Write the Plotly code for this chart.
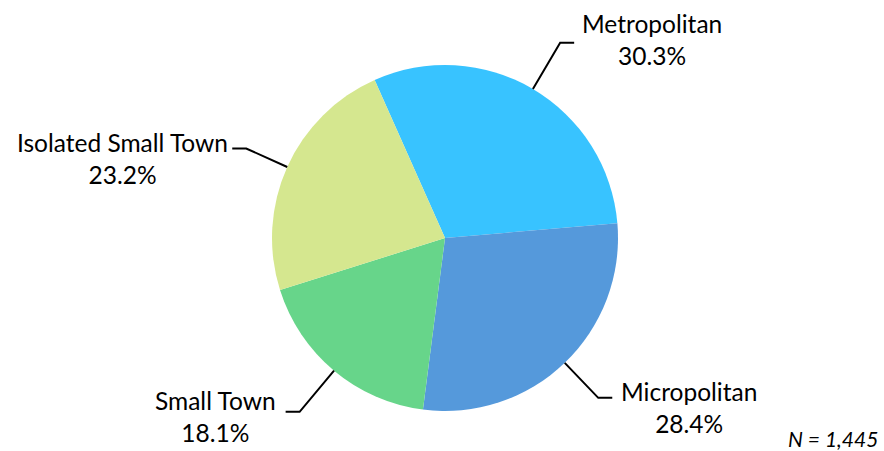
import math
import plotly.graph_objects as go

# Community type shares (percent), listed clockwise from the top
categories = ["Metropolitan", "Micropolitan", "Small Town", "Isolated Small Town"]
shares = [30.3, 28.4, 18.1, 23.2]
colors = ["#38C3FF", "#5599DB", "#67D58A", "#D5E78F"]
sample_note = "N = 1,445"

W, H = 884, 451
CX, CY, R = 445, 238, 173          # pie centre and radius in pixels
START_DEG = -24                     # first slice begins 24 degrees left of 12 o'clock
FONT = "Lato, 'Open Sans', sans-serif"

fig = go.Figure(go.Pie(
    labels=categories,
    values=shares,
    marker=dict(colors=colors, line=dict(width=0)),
    sort=False,
    direction="clockwise",
    rotation=START_DEG,
    textinfo="none",
    hoverinfo="label+percent",
    showlegend=False,
    domain=dict(x=[(CX - R) / W, (CX + R) / W],
                y=[(H - CY - R) / H, (H - CY + R) / H]),
))


def px(x):
    return x / W


def py(y):
    return 1 - y / H


# Leader lines: radial segment from slice mid-angle, then a short horizontal tail
label_style = {
    # name: (elbow radius factor, text x offset from tail end, text y offset, xanchor)
    "Metropolitan": (1.31, 7, -3, "left"),
    "Micropolitan": (1.28, 8, 10, "left"),
    "Small Town": (1.31, -9, 5, "right"),
    "Isolated Small Town": (1.26, -3, 10, "right"),
}
total = sum(shares)
acc = 0.0
for name, val in zip(categories, shares):
    mid = math.radians(START_DEG + (acc + val / 2) / total * 360)
    acc += val
    k, dx, dy, anchor = label_style[name]
    sx, sy = math.sin(mid), -math.cos(mid)
    x0, y0 = CX + R * sx, CY + R * sy
    x1, y1 = CX + k * R * sx, CY + k * R * sy
    tail = 14 if sx > 0 else -14
    x2, y2 = x1 + tail, y1
    path = f"M {px(x0)} {py(y0)} L {px(x1)} {py(y1)} L {px(x2)} {py(y2)}"
    fig.add_shape(type="path", path=path, xref="paper", yref="paper",
                  line=dict(color="black", width=2))
    fig.add_annotation(
        x=px(x2 + dx), y=py(y2 + dy), xref="paper", yref="paper",
        xanchor=anchor, yanchor="middle", align="center",
        text=f"{name}<br>{val:.1f}%", showarrow=False, borderpad=0,
        font=dict(family=FONT, size=24.5, color="black"),
    )

fig.add_annotation(
    x=px(880), y=py(438), xref="paper", yref="paper",
    xanchor="right", yanchor="middle",
    text=f"<i>{sample_note}</i>", showarrow=False,
    font=dict(family=FONT, size=21, color="black"),
)

fig.update_layout(
    width=W, height=H,
    margin=dict(l=0, r=0, t=0, b=0),
    paper_bgcolor="white", plot_bgcolor="white",
)

fig.write_html("out.html")
